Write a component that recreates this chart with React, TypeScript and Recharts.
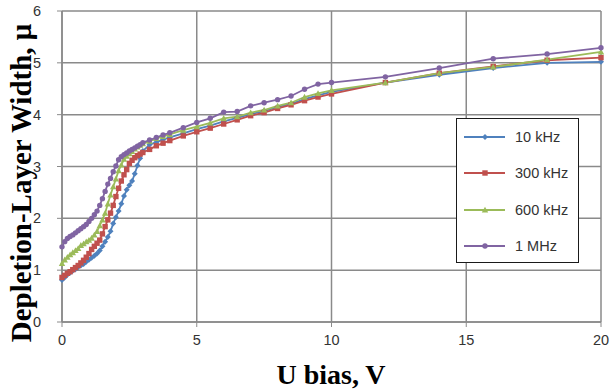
import { LineChart, Line, XAxis, YAxis, CartesianGrid } from 'recharts';

const biasV = [
  0, 0.1, 0.2, 0.3, 0.4, 0.5, 0.6, 0.7, 0.8, 0.9, 1.0, 1.1, 1.2, 1.3, 1.4, 1.5, 1.6, 1.7, 1.8, 1.9,
  2.0, 2.1, 2.2, 2.3, 2.4, 2.5, 2.6, 2.7, 2.8, 2.9, 3.0, 3.25, 3.5, 3.75, 4.0, 4.5, 5.0, 5.5, 6.0,
  6.5, 7.0, 7.5, 8.0, 8.5, 9.0, 9.5, 10, 12, 14, 16, 18, 20,
];

const w10k = [
  0.81, 0.86, 0.91, 0.95, 0.99, 1.02, 1.06, 1.09, 1.12, 1.16, 1.2, 1.24, 1.28, 1.32, 1.38, 1.46, 1.55, 1.64, 1.75, 1.9,
  2.02, 2.14, 2.28, 2.43, 2.55, 2.64, 2.72, 2.86, 3.02, 3.16, 3.3, 3.42, 3.47, 3.52, 3.56, 3.64, 3.72, 3.79, 3.87,
  3.94, 4.01, 4.07, 4.15, 4.21, 4.3, 4.37, 4.44, 4.62, 4.77, 4.9, 5.0, 5.02,
];

const w300k = [
  0.86, 0.9, 0.94, 0.97, 1.01, 1.05, 1.09, 1.14, 1.19, 1.25, 1.32, 1.4, 1.46, 1.52, 1.58, 1.7, 1.84, 1.97, 2.1, 2.25,
  2.42, 2.58, 2.72, 2.84, 2.94, 3.06, 3.12, 3.17, 3.21, 3.24, 3.27, 3.33, 3.4, 3.45, 3.5, 3.59, 3.67, 3.74, 3.82,
  3.9, 3.98, 4.04, 4.12, 4.19, 4.27, 4.34, 4.4, 4.62, 4.8, 4.93, 5.05, 5.1,
];

const w600k = [
  1.13, 1.2, 1.25, 1.3, 1.34, 1.38, 1.42, 1.48, 1.51, 1.55, 1.58, 1.62, 1.68, 1.75, 1.86, 1.97, 2.1, 2.28, 2.45, 2.61,
  2.76, 2.92, 3.03, 3.14, 3.2, 3.25, 3.29, 3.34, 3.38, 3.41, 3.44, 3.49, 3.54, 3.58, 3.62, 3.7, 3.77, 3.84, 3.93,
  3.96, 4.04, 4.09, 4.17, 4.23, 4.34, 4.41, 4.47, 4.62, 4.8, 4.92, 5.06, 5.21,
];

const w1M = [
  1.45, 1.55, 1.61, 1.65, 1.68, 1.72, 1.76, 1.8, 1.84, 1.88, 1.94, 2.0, 2.07, 2.14, 2.25, 2.38, 2.52, 2.66, 2.77, 2.9,
  3.01, 3.13, 3.19, 3.23, 3.26, 3.3, 3.33, 3.36, 3.39, 3.42, 3.46, 3.51, 3.56, 3.61, 3.65, 3.75, 3.85, 3.93, 4.05,
  4.06, 4.17, 4.23, 4.29, 4.36, 4.49, 4.59, 4.62, 4.73, 4.9, 5.08, 5.17, 5.29,
];

const xTicks = [0, 5, 10, 15, 20];
const yTicks = [0, 1, 2, 3, 4, 5, 6];

const data = biasV.map((v, i) => ({
  v,
  f10k: w10k[i],
  f300k: w300k[i],
  f600k: w600k[i],
  f1M: w1M[i],
}));

const series = [
  { key: 'f10k', name: '10 kHz', color: '#4F81BD', shape: 'diamond' },
  { key: 'f300k', name: '300 kHz', color: '#C0504D', shape: 'square' },
  { key: 'f600k', name: '600 kHz', color: '#9BBB59', shape: 'triangle' },
  { key: 'f1M', name: '1 MHz', color: '#8064A2', shape: 'circle' },
];

const Marker = ({ cx, cy, color, shape }: any) => {
  if (cx == null || cy == null) return null;
  if (shape === 'diamond') {
    return <path d={`M${cx},${cy - 3}L${cx + 3},${cy}L${cx},${cy + 3}L${cx - 3},${cy}Z`} fill={color} />;
  }
  if (shape === 'square') {
    return <rect x={cx - 2.7} y={cy - 2.7} width={5.4} height={5.4} fill={color} />;
  }
  if (shape === 'triangle') {
    return <path d={`M${cx},${cy - 3.2}L${cx + 3.2},${cy + 2.6}L${cx - 3.2},${cy + 2.6}Z`} fill={color} />;
  }
  return <circle cx={cx} cy={cy} r={2.7} fill={color} />;
};

const YTitle = () => (
  <text
    x={31}
    y={183}
    transform="rotate(-90 31 183)"
    textAnchor="middle"
    fontFamily="'Liberation Serif', serif"
    fontWeight="bold"
    fontSize={29}
    fill="#000"
  >
    Depletion-Layer Width, μ
  </text>
);

const XTitle = () => (
  <text
    x={331}
    y={384}
    textAnchor="middle"
    fontFamily="'Liberation Serif', serif"
    fontWeight="bold"
    fontSize={28}
    fill="#000"
  >
    U bias, V
  </text>
);

// legend sits inside the plot, so keep it out of recharts' layout
const LegendBox = () => (
  <div
    style={{
      position: 'absolute',
      left: 456,
      top: 118,
      width: 123,
      height: 145,
      border: '1.5px solid #1a1a1a',
      background: '#fff',
      boxSizing: 'border-box',
      fontFamily: "'Liberation Sans', sans-serif",
      fontSize: 14.5,
      color: '#333',
    }}
  >
    {series.map((s) => (
      <div key={s.key} style={{ display: 'flex', alignItems: 'center', height: 36.3 }}>
        <svg width={52} height={12} style={{ marginLeft: 6 }}>
          <line x1={1} y1={6} x2={42} y2={6} stroke={s.color} strokeWidth={2} />
          <Marker cx={22} cy={6} color={s.color} shape={s.shape} />
        </svg>
        <span>{s.name}</span>
      </div>
    ))}
  </div>
);

const tickStyle = { fontFamily: "'Liberation Sans', sans-serif", fontSize: 14.5, fill: '#333' };

export default function App() {
  return (
    <div style={{ position: 'absolute', left: 0, top: 0, width: 612, height: 391, background: '#fff' }}>
      <LineChart width={612} height={391} data={data} margin={{ top: 11, right: 11, bottom: 0, left: 0 }}>
        <CartesianGrid stroke="#8a8a8a" strokeWidth={1.5} />
        <XAxis
          dataKey="v"
          type="number"
          domain={[0, 20]}
          ticks={xTicks}
          height={69}
          axisLine={{ stroke: '#8a8a8a', strokeWidth: 1.5 }}
          tickLine={{ stroke: '#8a8a8a' }}
          tickSize={5}
          tickMargin={8}
          tick={tickStyle}
          label={<XTitle />}
        />
        <YAxis
          type="number"
          domain={[0, 6]}
          ticks={yTicks}
          width={62}
          axisLine={{ stroke: '#8a8a8a', strokeWidth: 1.5 }}
          tickLine={{ stroke: '#8a8a8a' }}
          tickSize={5}
          tickMargin={16}
          tick={tickStyle}
          label={<YTitle />}
        />
        {series.map((s) => (
          <Line
            key={s.key}
            dataKey={s.key}
            name={s.name}
            type="linear"
            stroke={s.color}
            strokeWidth={1.8}
            dot={(p: any) => <Marker key={`${s.key}-${p.index}`} cx={p.cx} cy={p.cy} color={s.color} shape={s.shape} />}
            activeDot={false}
            isAnimationActive={false}
          />
        ))}
      </LineChart>
      <LegendBox />
    </div>
  );
}
